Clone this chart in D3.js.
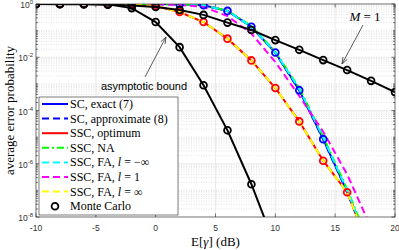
<!DOCTYPE html>
<html>
<head>
<meta charset="utf-8">
<script src="https://cdn.jsdelivr.net/npm/d3@7"></script>
<style>
  body { margin: 0; background: #fff; }
  svg { display: block; }
</style>
</head>
<body>
<div id="chart"></div>
<script>
// SNR points (dB) for the analytic curves
let snr = [-10, -8, -6, -4, -2, 0, 2, 4, 6, 8, 10, 12, 14, 16, 18];
let scExact   = [1, 1, 1, 1, 0.999, 0.99, 0.97, 0.9, 0.55, 0.14, 0.015, 5.8e-4, 8.4e-6, 9e-8, 5e-10];
let scApprox  = [1, 1, 1, 1, 0.999, 0.99, 0.97, 0.9, 0.55, 0.14, 0.0148, 5.7e-4, 8.2e-6, 8.8e-8, 5e-10];
let sscOpt    = [1, 1, 0.999, 0.995, 0.97, 0.84, 0.5, 0.21, 0.05, 0.0076, 7e-4, 3.9e-5, 1.3e-6, 8.5e-8, 5e-10];
let sscNA     = [1, 1, 1, 1, 0.999, 0.99, 0.97, 0.9, 0.56, 0.15, 0.016, 7e-4, 1.05e-5, 1.1e-7, 7e-10];
let faMinusInf = [1, 1, 1, 1, 0.999, 0.99, 0.97, 0.9, 0.55, 0.14, 0.0152, 6.5e-4, 9.6e-6, 1e-7, 6e-10];
let faOne     = [1, 1, 1, 1, 0.998, 0.98, 0.93, 0.78, 0.35, 0.078, 0.0066, 3.5e-4, 1.6e-5, 4e-7, 4e-9];
let faInf     = [1, 1, 0.999, 0.995, 0.97, 0.84, 0.5, 0.21, 0.05, 0.0076, 7e-4, 3.9e-5, 1.3e-6, 8.5e-8, 5e-10];

// Monte Carlo points
let mcScSnr  = [-10, -8, -6, -4, -2, 0, 2, 4, 6, 8, 10, 12, 14];
let mcSc     = [1, 1, 1, 1, 0.999, 0.99, 0.97, 0.9, 0.55, 0.14, 0.015, 5.8e-4, 8.4e-6];
let mcSscSnr = [-10, -8, -6, -4, -2, 0, 2, 4, 6, 8, 10, 12, 14, 16];
let mcSsc    = [1, 1, 0.999, 0.995, 0.97, 0.84, 0.5, 0.21, 0.05, 0.0076, 7e-4, 3.9e-5, 1.3e-6, 8.5e-8];

// single branch (M = 1) and asymptotic bound
let m1Snr = [-10, -8, -6, -4, -2, 0, 2, 4, 6, 8, 10, 12, 14, 16, 18, 20];
let m1    = [0.99, 0.985, 0.97, 0.94, 0.88, 0.77, 0.6, 0.39, 0.2, 0.105, 0.044, 0.019, 0.0078, 0.0033, 0.0013, 4.9e-4];
let asySnr = [-10, -8, -6, -4, -2, 0, 2, 4, 6, 8, 10];
let asy    = [1, 1, 1, 0.97, 0.7, 0.21, 0.024, 8.9e-4, 1.8e-5, 1.7e-7, 8e-10];

let xTicks = [-10, -5, 0, 5, 10, 15, 20];
let yTickExp = [0, -2, -4, -6, -8];

let legendLabels = [
  ["SC, exact (7)"],
  ["SC, approximate (8)"],
  ["SSC, optimum"],
  ["SSC, NA"],
  ["SSC, FA, ", "l", " = \u2212\u221e"],
  ["SSC, FA, ", "l", " = 1"],
  ["SSC, FA, ", "l", " = \u221e"],
  ["Monte Carlo"]
];

let width = 399, height = 250;
let margin = { top: 4, right: 4, bottom: 33, left: 36 };

let x = d3.scaleLinear().domain([-10, 20]).range([margin.left, width - margin.right]);
let y = d3.scaleLog().domain([1e-8, 1]).range([height - margin.bottom, margin.top]);

let axisColor = "#262626";
let serif = "'Liberation Serif', 'DejaVu Serif', serif";
let sans = "'Liberation Sans', Arial, sans-serif";

let svg = d3.select("#chart").append("svg")
  .attr("width", width)
  .attr("height", height);

svg.append("rect")
  .attr("x", x(-10)).attr("y", y(1))
  .attr("width", x(20) - x(-10)).attr("height", y(1e-8) - y(1))
  .attr("fill", "#fff");

svg.append("clipPath").attr("id", "plotclip")
  .append("rect")
  .attr("x", x(-10)).attr("y", y(1))
  .attr("width", x(20) - x(-10)).attr("height", y(1e-8) - y(1));

// grid
let grid = svg.append("g");
let minorY = [];
for (let e = -8; e < 0; e++) {
  for (let k = 1; k < 10; k++) {
    let v = k * Math.pow(10, e);
    if (k == 1 && e % 2 == 0) continue;
    minorY.push(v);
  }
}
grid.selectAll(".minor").data(minorY).join("line")
  .attr("x1", x(-10)).attr("x2", x(20))
  .attr("y1", d => y(d)).attr("y2", d => y(d))
  .attr("stroke", "#d0d0d0").attr("stroke-width", 0.6)
  .attr("stroke-dasharray", "1,1.5");
grid.selectAll(".majory").data(yTickExp).join("line")
  .attr("x1", x(-10)).attr("x2", x(20))
  .attr("y1", d => y(Math.pow(10, d))).attr("y2", d => y(Math.pow(10, d)))
  .attr("stroke", "#e3e3e3").attr("stroke-width", 0.7);
grid.selectAll(".majorx").data(xTicks).join("line")
  .attr("x1", d => x(d)).attr("x2", d => x(d))
  .attr("y1", y(1)).attr("y2", y(1e-8))
  .attr("stroke", "#e3e3e3").attr("stroke-width", 0.7);

// curves
let curves = [
  { xs: snr, ys: scExact, color: "#0000ff", dash: null },
  { xs: snr, ys: scApprox, color: "#0000ff", dash: "7,4" },
  { xs: snr, ys: sscOpt, color: "#ff0000", dash: null },
  { xs: snr, ys: sscNA, color: "#00ff00", dash: "7,3,2,3" },
  { xs: snr, ys: faMinusInf, color: "#00ffff", dash: "7,4" },
  { xs: snr, ys: faOne, color: "#ff00ff", dash: "7,4" },
  { xs: snr, ys: faInf, color: "#ffff00", dash: "7,4" }
];

let line = d3.line().x(d => x(d[0])).y(d => y(d[1]));
let plot = svg.append("g").attr("clip-path", "url(#plotclip)");

curves.forEach(c => {
  plot.append("path")
    .datum(d3.zip(c.xs, c.ys))
    .attr("d", line)
    .attr("fill", "none")
    .attr("stroke", c.color)
    .attr("stroke-width", 2)
    .attr("stroke-dasharray", c.dash);
});

function markers(xs, ys, color) {
  plot.append("g").selectAll("circle")
    .data(d3.zip(xs, ys))
    .join("circle")
    .attr("cx", d => x(d[0]))
    .attr("cy", d => y(d[1]))
    .attr("r", 3.4)
    .attr("fill", "none")
    .attr("stroke", color)
    .attr("stroke-width", 1.8);
}

markers(mcScSnr, mcSc, "#0000ff");
markers(mcSscSnr, mcSsc, "#ff0000");

[[m1Snr, m1], [asySnr, asy]].forEach(([xs, ys]) => {
  plot.append("path")
    .datum(d3.zip(xs, ys))
    .attr("d", line)
    .attr("fill", "none")
    .attr("stroke", "#000")
    .attr("stroke-width", 2);
  markers(xs, ys, "#000");
});

// axes box and ticks
let axes = svg.append("g").attr("stroke", axisColor).attr("stroke-width", 0.6);
axes.append("rect")
  .attr("x", x(-10)).attr("y", y(1))
  .attr("width", x(20) - x(-10)).attr("height", y(1e-8) - y(1))
  .attr("fill", "none");
xTicks.forEach(t => {
  axes.append("line").attr("x1", x(t)).attr("x2", x(t)).attr("y1", y(1e-8)).attr("y2", y(1e-8) - 3.5);
  axes.append("line").attr("x1", x(t)).attr("x2", x(t)).attr("y1", y(1)).attr("y2", y(1) + 3.5);
});
yTickExp.forEach(e => {
  let v = Math.pow(10, e);
  axes.append("line").attr("x1", x(-10)).attr("x2", x(-10) + 3.5).attr("y1", y(v)).attr("y2", y(v));
  axes.append("line").attr("x1", x(20)).attr("x2", x(20) - 3.5).attr("y1", y(v)).attr("y2", y(v));
});
minorY.forEach(v => {
  axes.append("line").attr("x1", x(-10)).attr("x2", x(-10) + 2).attr("y1", y(v)).attr("y2", y(v));
  axes.append("line").attr("x1", x(20)).attr("x2", x(20) - 2).attr("y1", y(v)).attr("y2", y(v));
});

// tick labels
svg.append("g").selectAll("text").data(xTicks).join("text")
  .attr("x", d => x(d))
  .attr("y", y(1e-8) + 14)
  .attr("text-anchor", "middle")
  .attr("font-family", sans).attr("font-size", 8.5)
  .attr("fill", "#333")
  .text(d => d);

let yl = svg.append("g").selectAll("text").data(yTickExp).join("text")
  .attr("x", x(-10) - 3)
  .attr("y", d => y(Math.pow(10, d)) + 4)
  .attr("text-anchor", "end")
  .attr("font-family", sans).attr("font-size", 8.5)
  .attr("fill", "#333");
yl.append("tspan").text("10");
yl.append("tspan").attr("dy", -4).attr("font-size", 6).text(d => d);

// axis titles
let xt = svg.append("text")
  .attr("x", (x(-10) + x(20)) / 2)
  .attr("y", 246)
  .attr("text-anchor", "middle")
  .attr("font-family", serif).attr("font-size", 13)
  .attr("fill", "#000");
xt.append("tspan").text("E[");
xt.append("tspan").attr("font-style", "italic").text("\u03b3");
xt.append("tspan").text("] (dB)");

svg.append("text")
  .attr("transform", `translate(14,${(y(1) + y(1e-8)) / 2}) rotate(-90)`)
  .attr("text-anchor", "middle")
  .attr("font-family", serif).attr("font-size", 13)
  .attr("fill", "#000")
  .text("average error probability");

// annotations
function arrow(x1, y1, x2, y2) {
  let a = Math.atan2(y2 - y1, x2 - x1);
  let len = 7, spread = 0.35;
  svg.append("path")
    .attr("d", `M${x1},${y1}L${x2},${y2}`
      + `M${x2 - len * Math.cos(a - spread)},${y2 - len * Math.sin(a - spread)}L${x2},${y2}`
      + `L${x2 - len * Math.cos(a + spread)},${y2 - len * Math.sin(a + spread)}`)
    .attr("fill", "none")
    .attr("stroke", "#333")
    .attr("stroke-width", 0.8);
}
arrow(145, 77, 166, 37);
arrow(363, 25, 342, 64);

svg.append("text")
  .attr("x", 144).attr("y", 90)
  .attr("text-anchor", "middle")
  .attr("font-family", sans).attr("font-size", 11)
  .attr("fill", "#000")
  .text("asymptotic bound");

let mt = svg.append("text")
  .attr("x", 365).attr("y", 21)
  .attr("text-anchor", "middle")
  .attr("font-family", serif).attr("font-size", 13)
  .attr("fill", "#000");
mt.append("tspan").attr("font-style", "italic").text("M");
mt.append("tspan").text(" = 1");

// legend
let legendStyles = curves.map(c => ({ color: c.color, dash: c.dash })).concat([{ marker: true }]);
let lg = svg.append("g");
lg.append("rect")
  .attr("x", 39).attr("y", 97)
  .attr("width", 139).attr("height", 118)
  .attr("fill", "#fff")
  .attr("stroke", axisColor).attr("stroke-width", 0.6);

let rowH = 14.6;
legendLabels.forEach((parts, i) => {
  let yy = 104 + i * rowH;
  let st = legendStyles[i];
  if (st.marker) {
    lg.append("circle").attr("cx", 55).attr("cy", yy).attr("r", 3.4)
      .attr("fill", "none").attr("stroke", "#000").attr("stroke-width", 1.8);
  } else {
    lg.append("line")
      .attr("x1", 42).attr("x2", 68).attr("y1", yy).attr("y2", yy)
      .attr("stroke", st.color).attr("stroke-width", 2)
      .attr("stroke-dasharray", st.dash);
  }
  let t = lg.append("text")
    .attr("x", 70).attr("y", yy + 4)
    .attr("font-family", serif).attr("font-size", 12)
    .attr("fill", "#000");
  parts.forEach((p, j) => {
    t.append("tspan").attr("font-style", j == 1 ? "italic" : null).text(p);
  });
});
</script>
</body>
</html>
